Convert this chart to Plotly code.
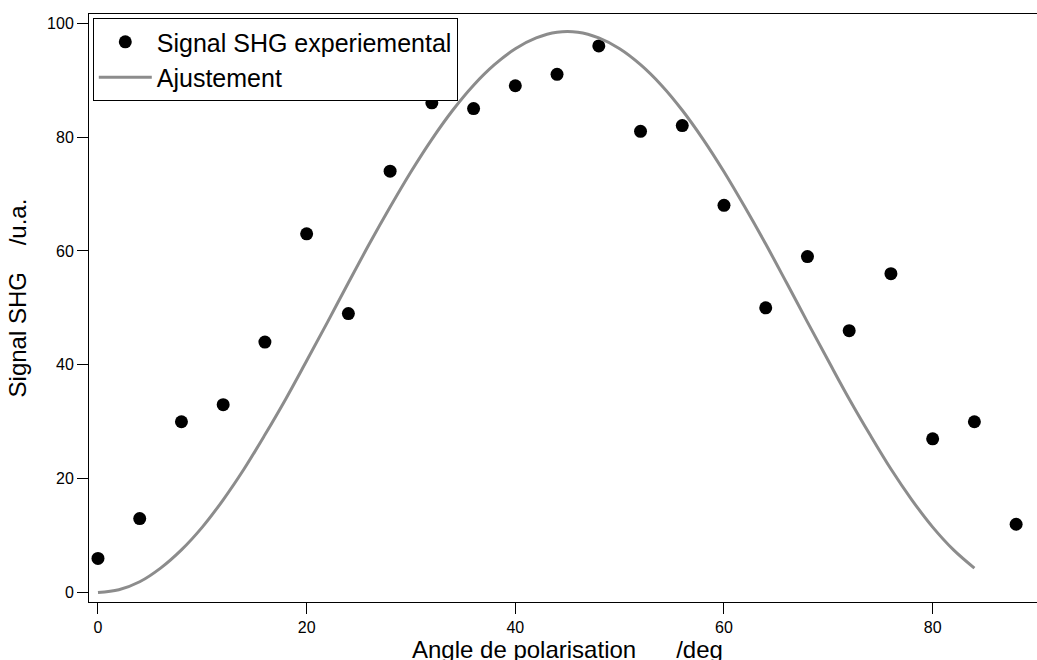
import plotly.graph_objects as go

# Experimental points
angle_exp = [0, 4, 8, 12, 16, 20, 24, 28, 32, 36, 40, 44, 48, 52, 56, 60, 64, 68, 72, 76, 80, 84, 88]
signal_exp = [6, 13, 30, 33, 44, 63, 49, 74, 86, 85, 89, 91, 96, 81, 82, 68, 50, 59, 46, 56, 27, 30, 12]

# Fitted curve
angle_fit = [0, 2, 4, 6, 8, 10, 12, 14, 16, 18, 20, 22, 24, 26, 28, 30, 32, 34, 36, 38, 40, 42,
             44, 46, 48, 50, 52, 54, 56, 58, 60, 62, 64, 66, 68, 70, 72, 74, 76, 78, 80, 82, 84]
signal_fit = [0, 0.5, 1.9, 4.3, 7.5, 11.5, 16.3, 21.7, 27.7, 34.0, 40.7, 47.5, 54.4, 61.2, 67.7,
              73.9, 79.6, 84.7, 89.1, 92.7, 95.5, 97.4, 98.4, 98.4, 97.4, 95.5, 92.7, 89.1, 84.7,
              79.6, 73.9, 67.7, 61.2, 54.4, 47.5, 40.7, 34.0, 27.7, 21.7, 16.3, 11.5, 7.5, 4.3]

x_ticks = [0, 20, 40, 60, 80]
y_ticks = [0, 20, 40, 60, 80, 100]

FONT = "Arial, Liberation Sans, sans-serif"
NB = "\u00a0"

fig = go.Figure()
fig.add_trace(go.Scatter(
    x=angle_exp, y=signal_exp, mode="markers", name="Signal SHG experiemental",
    marker=dict(color="black", size=13),
))
fig.add_trace(go.Scatter(
    x=angle_fit, y=signal_fit, mode="lines", name="Ajustement",
    line=dict(color="#8c8c8c", width=3, shape="spline"),
))

fig.update_layout(
    width=1037, height=660,
    margin=dict(l=89, r=0, t=14, b=58),
    plot_bgcolor="white", paper_bgcolor="white",
    font=dict(family=FONT, color="black"),
    showlegend=True,
    legend=dict(
        x=0.004, y=0.993, xanchor="left", yanchor="top",
        bordercolor="black", borderwidth=1, bgcolor="white",
        font=dict(size=25, family=FONT, color="black"),
        itemwidth=53, tracegroupgap=0,
    ),
    xaxis=dict(
        range=[-0.86, 90], tickvals=x_ticks, ticktext=[str(v) for v in x_ticks],
        showgrid=False, zeroline=False, showline=True, linecolor="black", linewidth=1,
        mirror=True, ticks="outside", ticklen=11, tickcolor="black", tickwidth=1,
        tickfont=dict(size=16, family=FONT, color="black"),
    ),
    yaxis=dict(
        range=[-1.65, 101.6], tickvals=y_ticks, ticktext=[str(v) for v in y_ticks],
        showgrid=False, zeroline=False, showline=True, linecolor="black", linewidth=1,
        mirror=False, ticks="outside", ticklen=11, tickcolor="black", tickwidth=1,
        tickfont=dict(size=16, family=FONT, color="black"),
    ),
    annotations=[
        dict(text="Angle de polarisation" + NB * 6 + "/deg", xref="paper", yref="paper",
             x=0.505, y=-0.054, xanchor="center", yanchor="top", showarrow=False,
             font=dict(size=24, family=FONT, color="black")),
        dict(text="Signal SHG" + NB * 4 + "/u.a.", xref="paper", yref="paper",
             x=-0.0755, y=0.517, xanchor="center", yanchor="middle", textangle=-90,
             showarrow=False, font=dict(size=24, family=FONT, color="black")),
    ],
)

fig.write_html(
    "out.html",
    config={"displayModeBar": False},
    post_script="document.body.style.margin='0';document.body.style.overflow='hidden';",
)
